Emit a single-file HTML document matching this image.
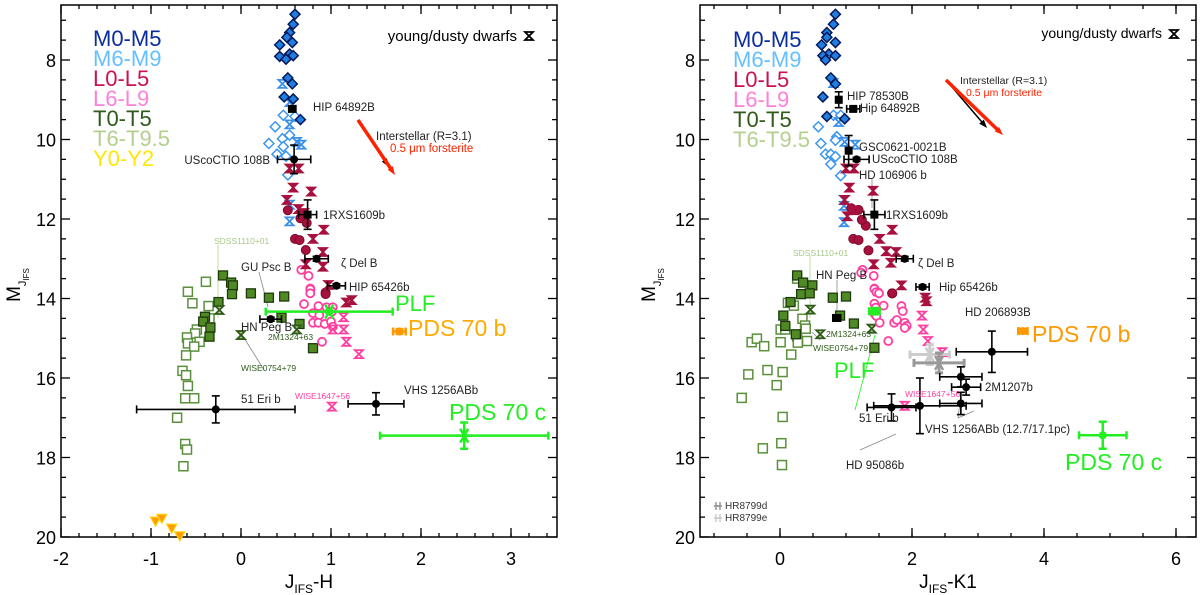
<!DOCTYPE html>
<html><head><meta charset="utf-8"><title>Colour-magnitude diagrams</title>
<style>
html,body{margin:0;padding:0;background:#fff;}
svg{display:block;font-family:"Liberation Sans",Arial,sans-serif;}
</style></head>
<body>
<svg id="chart" width="1200" height="595" viewBox="0 0 1200 595" xmlns="http://www.w3.org/2000/svg">
<g id="left"></g>
<g id="right"></g>
</svg>
<script>
// ---------- LEFT PANEL DATA (J-H vs MJ) ----------
const L_m05_x=[0.60,0.58,0.54,0.51,0.57,0.43,0.54,0.43,0.58,0.50,0.52,0.57,0.48,0.58,0.66];
const L_m05_y=[6.85,7.1,7.31,7.43,7.56,7.62,7.85,7.91,7.89,7.98,8.45,8.6,8.93,8.98,9.5];
const L_m69_x=[0.47,0.60,0.38,0.46,0.54,0.31,0.40,0.50,0.52,0.47];
const L_m69_y=[9.39,9.42,9.68,9.98,9.89,10.1,10.37,10.42,10.89,10.18];
const L_m69h_x=[0.46,0.54,0.54,0.62,0.67,0.54,0.54];
const L_m69h_y=[8.6,9.06,9.62,10.06,10.13,11.64,12.06];
const L_l05h_x=[0.54,0.64,0.58,0.78,0.51,0.64,0.70,0.92,0.80,0.91,0.72,0.91,0.97,1.17,1.23];
const L_l05h_y=[10.73,10.73,11.21,11.31,11.52,11.75,11.85,12.27,12.5,12.83,13.14,13.2,13.66,14.1,14.04];
const L_l05c_x=[0.52,0.60,0.65,0.72,0.66,0.73,0.94,0.94];
const L_l05c_y=[11.78,12.5,12.53,12.78,11.98,12.1,13.85,13.89];
const L_l69c_x=[0.67,0.75,0.77,0.77,0.77,0.77,0.70,0.86,0.80,0.87,0.95,1.02,1.01,0.80,0.86,0.93,1.0,1.02,0.90];
const L_l69c_y=[13.28,13.43,13.75,13.85,13.77,13.87,14.14,14.19,14.37,14.42,14.22,14.22,14.33,14.61,14.61,14.64,14.58,14.71,15.09];
const L_l69h_x=[1.14,1.14,1.17,1.31,1.02,1.01];
const L_l69h_y=[14.47,14.78,15.09,15.4,14.78,16.72];
const L_t05_x=[-0.20,-0.11,-0.09,-0.10,0.11,0.31,0.48,0.45,-0.40,-0.42,-0.34,-0.35,0.65,0.80,-0.25];
const L_t05_y=[13.42,13.6,13.67,13.89,13.87,13.98,13.95,14.48,14.46,14.58,14.73,14.96,14.64,15.25,14.09];
const L_t69_x=[-0.59,-0.39,-0.54,-0.36,-0.35,-0.49,-0.51,-0.60,-0.59,-0.46,-0.52,-0.61,-0.65,-0.61,-0.59,-0.62,-0.52,-0.71,-0.62,-0.60,-0.64];
const L_t69_y=[13.83,13.58,14.12,14.19,14.5,14.78,14.88,14.98,15.13,15.09,15.21,15.43,15.82,15.93,16.2,16.51,16.51,17.0,17.66,17.8,18.22];
const L_th_x=[-0.24,0.0,0.62];
const L_th_y=[14.29,14.92,14.78];
const L_y_x=[-0.95,-0.88,-0.77,-0.68];
const L_y_y=[19.6,19.53,19.78,19.97];
// companions: x, y, xerr, yerr
const L_comp_names=["HIP 64892B","USco CTIO 108B","1RXS1609b","zeta Del B","HIP 65426b","GU Psc B","51 Eri b","VHS 1256ABb"];
const L_comp_x=[0.57,0.59,0.74,0.84,1.06,0.33,-0.28,1.5];
const L_comp_y=[9.23,10.5,11.89,13.0,13.68,14.52,16.79,16.65];
const L_comp_xe=[0.04,0.185,0.1,0.13,0.1,0.12,0.88,0.31];
const L_comp_ye=[0.05,0.36,0.37,0.06,0.05,0.05,0.34,0.28];
const L_plf=[0.98,14.33,0.705,0.03];
const L_pdsb=[1.76,14.83,0.07,0.06];
const L_pdsc=[2.48,17.45,0.935,0.33];

// ---------- RIGHT PANEL DATA (J-K1 vs MJ) ----------
const R_m05_x=[0.84,0.81,0.71,0.71,0.84,0.63,0.74,0.65,0.84,0.69,0.77,0.84,0.65,0.71,0.98];
const R_m05_y=[6.85,7.1,7.31,7.43,7.56,7.62,7.85,7.89,7.89,8.0,8.45,8.6,8.93,9.42,9.48];
const R_m69_x=[0.81,0.92,0.58,0.62,0.69,0.77,0.86,0.84,0.77,0.92,0.84];
const R_m69_y=[9.39,9.39,9.68,10.1,10.37,10.37,9.93,10.02,10.62,10.91,10.43];
const R_m69h_x=[0.81,0.89,0.98,1.14,0.97,0.97,0.97];
const R_m69h_y=[8.58,9.56,10.06,10.13,11.52,11.67,12.08];
const R_l05h_x=[1.0,1.12,1.05,1.41,0.98,1.11,1.02,1.51,1.70,1.61,1.76,1.42,1.68,1.84,2.22,2.2];
const R_l05h_y=[10.73,10.73,11.21,11.29,11.52,11.78,11.93,12.5,12.27,12.81,12.83,13.14,13.1,13.67,14.07,13.98];
const R_l05c_x=[1.11,1.19,1.19,1.30,1.34,1.70,1.08,1.24,1.70];
const R_l05c_y=[12.5,12.53,11.77,12.17,12.79,13.87,11.73,12.02,13.87];
const R_l69c_x=[1.25,1.23,1.42,1.43,1.49,1.43,1.46,1.50,1.43,1.57,1.45,1.43,1.46,1.51,1.73,1.77,1.84,1.86,1.89,1.92,1.89,1.64];
const R_l69c_y=[13.28,13.35,13.43,13.75,13.85,13.76,13.84,13.87,14.13,14.18,14.23,14.38,14.44,14.61,14.61,14.54,14.19,14.32,14.61,14.69,14.74,15.07];
const R_l69h_x=[2.15,2.17,2.24,2.46,1.89];
const R_l69h_y=[14.43,14.78,15.07,15.35,16.7];
const R_t05_x=[0.26,0.35,0.49,0.32,0.45,0.80,1.0,0.05,0.08,0.24,0.91,1.12,1.43,0.16];
const R_t05_y=[13.42,13.6,13.67,13.89,13.87,13.98,13.95,14.43,14.69,14.9,14.43,14.63,15.24,14.09];
const R_t69_x=[0.26,0.12,0.21,-0.43,-0.35,-0.24,0.01,0.08,0.01,0.26,0.27,0.41,0.34,0.38,0.39,0.17,-0.48,-0.19,0.04,-0.05,-0.58,0.04,0.02,-0.26,0.03];
const R_t69_y=[13.5,14.11,14.18,15.1,15.01,15.2,14.78,14.78,15.1,14.96,15.11,15.07,14.51,14.68,14.76,15.41,15.91,15.8,15.85,16.18,16.5,16.98,17.64,17.77,18.19];
const R_th_x=[0.46,0.61,1.39];
const R_th_y=[14.28,14.9,14.76];
const R_comp_names=["HIP 78530B","Hip 64892B","GSC0621-0021B","USco CTIO 108B","1RXS1609b","zeta Del B","Hip 65426b","HN Peg B","HD 206893B","2M1207b","2M1207b-alt","VHS 1256ABb","51 Eri b","HD 95086b"];
const R_comp_x=[0.89,1.11,1.04,1.16,1.43,1.89,2.16,0.86,3.21,2.82,2.74,2.74,1.69,2.12];
const R_comp_y=[9.0,9.23,10.28,10.5,11.89,13.0,13.71,14.49,15.34,16.23,15.97,16.64,16.74,16.7];
const R_comp_xe=[0.03,0.1,0.03,0.19,0.16,0.13,0.1,0.06,0.54,0.22,0.32,0.32,0.37,0.7];
const R_comp_ye=[0.2,0.05,0.38,0.05,0.37,0.06,0.05,0.05,0.52,0.2,0.25,0.28,0.34,0.7];
const R_hr_x=[2.27,2.41];
const R_hr_y=[15.41,15.62];
const R_hr_xe=[0.3,0.38];
const R_plf=[1.43,14.32,0.08,0.08];
const R_pdsb=[3.68,14.82,0.07,0.06];
const R_pdsc=[4.89,17.44,0.36,0.34];

const NS="http://www.w3.org/2000/svg";
function mk(tag,attrs,parent){const e=document.createElementNS(NS,tag);for(const k in attrs)e.setAttribute(k,attrs[k]);parent.appendChild(e);return e;}
function txt(parent,x,y,s,size,fill,anchor,name){const t=mk('text',{x:x,y:y,'font-size':size,fill:fill,'text-anchor':anchor||'start'},parent);t.textContent=s;


return t;}

function marker(g,kind,cx,cy,name){
  let e;
  if(kind==='dfill'){e=mk('path',{d:`M${cx},${cy-5}L${cx+5},${cy}L${cx},${cy+5}L${cx-5},${cy}Z`,fill:'#1f7fe0',stroke:'#06185a','stroke-width':1.5},g);}
  else if(kind==='dopen'){e=mk('path',{d:`M${cx},${cy-5}L${cx+5},${cy}L${cx},${cy+5}L${cx-5},${cy}Z`,fill:'#fff',stroke:'#3a96ee','stroke-width':1.5},g);}
  else if(kind.startsWith('hg')){const c=kind.split(':')[1];const o=kind.split(':')[2]||'#fff';e=mk('path',{d:`M${cx-4},${cy-4}L${cx+4},${cy-4}L${cx-4},${cy+4}L${cx+4},${cy+4}Z`,fill:o,stroke:c,'stroke-width':1.8},g);}
  else if(kind==='cfill'){e=mk('circle',{cx:cx,cy:cy,r:4.5,fill:'#a8103e',stroke:'#7a0a2c','stroke-width':1},g);}
  else if(kind==='copen'){e=mk('circle',{cx:cx,cy:cy,r:4,fill:'#fff',stroke:'#ff3fa0','stroke-width':1.8},g);}
  else if(kind==='sfill'){e=mk('rect',{x:cx-4.5,y:cy-4.5,width:9,height:9,fill:'#4f8a24',stroke:'#1d3a0c','stroke-width':1.3},g);}
  else if(kind==='sopen'){e=mk('rect',{x:cx-4.5,y:cy-4.5,width:9,height:9,fill:'#fff',stroke:'#5a8f3c','stroke-width':1.5},g);}
  else if(kind==='tri'){e=mk('path',{d:`M${cx-5},${cy-4}L${cx+5},${cy-4}L${cx},${cy+5}Z`,fill:'#ff9a00',stroke:'#ffd000','stroke-width':1.2},g);}
  
  
}

function errbar(g,sx,sy,x,y,xe,ye,color,w,name,sym){
  const eg=mk('g',{},g);
  
  
  const X=sx(x),Y=sy(y),x0=sx(x-xe),x1=sx(x+xe),y0=sy(y-ye),y1=sy(y+ye);
  mk('line',{x1:x0,y1:Y,x2:x1,y2:Y,stroke:color,'stroke-width':w},eg);
  mk('line',{x1:x0,y1:Y-4,x2:x0,y2:Y+4,stroke:color,'stroke-width':w},eg);
  mk('line',{x1:x1,y1:Y-4,x2:x1,y2:Y+4,stroke:color,'stroke-width':w},eg);
  mk('line',{x1:X,y1:y0,x2:X,y2:y1,stroke:color,'stroke-width':w},eg);
  mk('line',{x1:X-4,y1:y0,x2:X+4,y2:y0,stroke:color,'stroke-width':w},eg);
  mk('line',{x1:X-4,y1:y1,x2:X+4,y2:y1,stroke:color,'stroke-width':w},eg);
  if(sym==='star'){for(const a of [0,60,120]){const r=a*Math.PI/180;mk('line',{x1:X-8*Math.cos(r),y1:Y-8*Math.sin(r),x2:X+8*Math.cos(r),y2:Y+8*Math.sin(r),stroke:color,'stroke-width':2.5},eg);}}
  else if(sym==='dot'){mk('circle',{cx:X,cy:Y,r:4,fill:color},eg);}
  else if(sym==='sq'){mk('rect',{x:X-4,y:Y-4,width:8,height:8,fill:color},eg);}
}

function axes(g,sx,sy,xl,xr,xmaj,xmin,xlabels,xtitle,ytitleX){
  const top=5,bot=537;
  const fr=mk('rect',{x:xl,y:top,width:xr-xl,height:bot-top,fill:'none',stroke:'#000','stroke-width':1.5},g);
  
  
  const tg=mk('g',{stroke:'#000','stroke-width':1.3},g);
  
  
  for(const v of xmin){const X=sx(v);if(X<xl+1||X>xr-1)continue;mk('line',{x1:X,y1:bot,x2:X,y2:bot-4},tg);mk('line',{x1:X,y1:top,x2:X,y2:top+4},tg);}
  for(const v of xmaj){const X=sx(v);if(X<xl-1||X>xr+1)continue;mk('line',{x1:X,y1:bot,x2:X,y2:bot-9},tg);mk('line',{x1:X,y1:top,x2:X,y2:top+9},tg);}
  for(let v=7;v<=20;v+=0.5){const Y=sy(v);if(Y<top+1)continue;const maj=(v%2===0);const L=maj?9:5;mk('line',{x1:xl,y1:Y,x2:xl+L,y2:Y},tg);mk('line',{x1:xr,y1:Y,x2:xr-L,y2:Y},tg);}
  for(const v of xlabels){txt(g,sx(v),565,String(v),18,'#000','middle','x-tick-label');}
  for(const v of [8,10,12,14,16,18,20]){txt(g,xl-5,sy(v)+7,String(v),18,'#000','end','y-tick-label');}
  const xt=mk('text',{x:(xl+xr)/2,y:588,'font-size':19,'text-anchor':'middle'},g);
  xt.innerHTML='J<tspan font-size="12" dy="5">IFS</tspan><tspan dy="-5">'+xtitle+'</tspan>';
  
  
  const yt=mk('text',{x:0,y:0,'font-size':19,'text-anchor':'middle',transform:`translate(${ytitleX},285) rotate(-90)`},g);
  yt.innerHTML='M<tspan font-size="11" dy="6">J</tspan><tspan font-size="8" dy="3">IFS</tspan>';
  
  
}

function legend(g,x,y0,items){
  const lg=mk('g',{},g);
  
  
  items.forEach((it,i)=>{txt(lg,x,y0+i*20,it[0],22,it[1],'start','legend-entry');});
}

function scatter(g,sx,sy,xs,ys,kind,name){
  const sg=mk('g',{},g);
  
  
  for(let i=0;i<xs.length;i++)marker(sg,kind,sx(xs[i]),sy(ys[i]),name+'-point');
}

function arrow(g,x1,y1,x2,y2,color,w,name){
  const ag=mk('g',{},g);
  
  
  const ang=Math.atan2(y2-y1,x2-x1),h=9;
  mk('line',{x1:x1,y1:y1,x2:x2-h*0.6*Math.cos(ang),y2:y2-h*0.6*Math.sin(ang),stroke:color,'stroke-width':w},ag);
  mk('path',{d:`M${x2},${y2}L${x2-h*Math.cos(ang-0.35)},${y2-h*Math.sin(ang-0.35)}L${x2-h*Math.cos(ang+0.35)},${y2-h*Math.sin(ang+0.35)}Z`,fill:color},ag);
}
function leader(g,x1,y1,x2,y2,color){const l=mk('line',{x1:x1,y1:y1,x2:x2,y2:y2,stroke:color||'#777','stroke-width':0.8},g);

}

const sy=y=>60+(y-8)*39.75;

// ================= LEFT =================
(function(){
  const g=document.getElementById('left');
  const sx=x=>241+90*x;
  const maj=[-2,-1,0,1,2,3],mn=[];for(let v=-2;v<=3.6;v+=0.2)mn.push(Math.round(v*10)/10);
  axes(g,sx,sy,61,557,maj,mn,[-2,-1,0,1,2,3],'-H',20);
  leader(g,218,245,218,318,'#b5cf8f');
  leader(g,259,272,268,307,'#888');
  leader(g,264,370,241,333,'#888');
  scatter(g,sx,sy,L_t69_x,L_t69_y,'sopen','t6-t9-dwarfs');
  scatter(g,sx,sy,L_t05_x,L_t05_y,'sfill','t0-t5-dwarfs');
  scatter(g,sx,sy,L_th_x,L_th_y,'hg:#2e5a1a:#b5cf8f','young-t-dwarfs');
  scatter(g,sx,sy,L_y_x,L_y_y,'tri','y-dwarfs');
  scatter(g,sx,sy,L_m69_x,L_m69_y,'dopen','m6-m9-dwarfs');
  scatter(g,sx,sy,L_m69h_x,L_m69h_y,'hg:#3a8fe8','young-m6-m9-dwarfs');
  scatter(g,sx,sy,L_m05_x,L_m05_y,'dfill','m0-m5-dwarfs');
  scatter(g,sx,sy,L_l69c_x,L_l69c_y,'copen','l6-l9-dwarfs');
  scatter(g,sx,sy,L_l69h_x,L_l69h_y,'hg:#ff3fa0','young-l6-l9-dwarfs');
  scatter(g,sx,sy,L_l05c_x,L_l05c_y,'cfill','l0-l5-dwarfs');
  scatter(g,sx,sy,L_l05h_x,L_l05h_y,'hg:#a8103e:#a8103e','young-l0-l5-dwarfs');
  for(let i=0;i<L_comp_x.length;i++){
    const sym=(i===2)?'sq':(i===0?'sq':'dot');
    errbar(g,sx,sy,L_comp_x[i],L_comp_y[i],L_comp_xe[i],L_comp_ye[i],'#000',1.6,'companion-'+L_comp_names[i].replace(/\s+/g,'-').toLowerCase(),sym);
  }
  errbar(g,sx,sy,L_plf[0],L_plf[1],L_plf[2],L_plf[3],'#22ee22',2.5,'plf-point','star');
  errbar(g,sx,sy,L_pdsb[0],L_pdsb[1],L_pdsb[2],L_pdsb[3],'#ff9900',2.5,'pds70b-point','dot');
  errbar(g,sx,sy,L_pdsc[0],L_pdsc[1],L_pdsc[2],L_pdsc[3],'#22ee22',2.5,'pds70c-point','star');
  arrow(g,358,120,389,167,'#000',1.5,'interstellar-reddening-arrow');
  arrow(g,358,120,395,175,'#ff2200',3.5,'forsterite-reddening-arrow');
  legend(g,93,46,[['M0-M5','#0a2c9e'],['M6-M9','#66c0ff'],['L0-L5','#cc1050'],['L6-L9','#ff80d8'],['T0-T5','#2e5a1a'],['T6-T9.5','#b5cf8f'],['Y0-Y2','#ffe800']]);
  txt(g,517,41,'young/dusty dwarfs',15,'#000','end','young-dusty-legend-label');
  marker(g,'hg:#000',529,36,'young-dusty-legend-symbol');
  const f=11.5;
  txt(g,313,111,'HIP 64892B',f,'#222','start','label-hip64892b');
  txt(g,376,140,'Interstellar (R=3.1)',f,'#222','start','label-interstellar');
  txt(g,390,152,'0.5 μm forsterite',f,'#ff2200','start','label-forsterite');
  txt(g,270,164,'UScoCTIO 108B',f,'#222','end','label-uscoctio108b');
  txt(g,323,219,'1RXS1609b',f,'#222','start','label-1rxs1609b');
  txt(g,214,244,'SDSS1110+01',8.5,'#a8c888','start','label-sdss1110');
  txt(g,241,271,'GU Psc B',f,'#222','start','label-gu-psc-b');
  txt(g,341,267,'ζ Del B',f,'#222','start','label-zeta-del-b');
  txt(g,349,291,'HIP 65426b',f,'#222','start','label-hip65426b');
  txt(g,395,311,'PLF',22,'#22ee22','start','label-plf');
  txt(g,408,336,'PDS 70 b',23,'#ffaa00','start','label-pds70b');
  txt(g,241,331,'HN Peg B',f,'#222','start','label-hn-peg-b');
  txt(g,268,340,'2M1324+63',8.5,'#2e5a1a','start','label-2m1324');
  txt(g,241,371,'WISE0754+79',8.5,'#2e5a1a','start','label-wise0754');
  txt(g,241,403,'51 Eri b',f,'#222','start','label-51-eri-b');
  txt(g,295,399,'WISE1647+56',8.5,'#ff3fa0','start','label-wise1647');
  txt(g,404,394,'VHS 1256ABb',f,'#222','start','label-vhs1256abb');
  txt(g,449,420,'PDS 70 c',23,'#22ee22','start','label-pds70c');
})();

// ================= RIGHT =================
(function(){
  const g=document.getElementById('right');
  const sx=x=>780+66*x;
  const maj=[0,2,4,6],mn=[];for(let v=-1;v<=6.5;v+=0.5)mn.push(v);
  axes(g,sx,sy,700,1196,maj,mn,[0,2,4,6],'-K1',655);
  leader(g,810,256,810,318,'#b5cf8f');
  leader(g,837,280,837,316,'#888');
  leader(g,872,178,872,208,'#888');
  leader(g,820,340,812,332,'#888');
  leader(g,855,410,875,335,'#22ee22');
  leader(g,860,450,896,434,'#888');
  leader(g,958,418,960,402,'#888');
  leader(g,958,418,974,411,'#888');
  scatter(g,sx,sy,R_t69_x,R_t69_y,'sopen','t6-t9-dwarfs');
  scatter(g,sx,sy,R_t05_x,R_t05_y,'sfill','t0-t5-dwarfs');
  scatter(g,sx,sy,R_th_x,R_th_y,'hg:#2e5a1a:#b5cf8f','young-t-dwarfs');
  scatter(g,sx,sy,R_m69_x,R_m69_y,'dopen','m6-m9-dwarfs');
  scatter(g,sx,sy,R_m69h_x,R_m69h_y,'hg:#3a8fe8','young-m6-m9-dwarfs');
  scatter(g,sx,sy,R_m05_x,R_m05_y,'dfill','m0-m5-dwarfs');
  scatter(g,sx,sy,R_l69c_x,R_l69c_y,'copen','l6-l9-dwarfs');
  scatter(g,sx,sy,R_l69h_x,R_l69h_y,'hg:#ff3fa0','young-l6-l9-dwarfs');
  scatter(g,sx,sy,R_l05c_x,R_l05c_y,'cfill','l0-l5-dwarfs');
  scatter(g,sx,sy,R_l05h_x,R_l05h_y,'hg:#a8103e:#a8103e','young-l0-l5-dwarfs');
  const hrc=['#cccccc','#999999'];
  for(let i=0;i<R_hr_x.length;i++)errbar(g,sx,sy,R_hr_x[i],R_hr_y[i],R_hr_xe[i],0.25,hrc[i],3,'hr8799-point','star');
  for(let i=0;i<R_comp_x.length;i++){
    const sym=(i<3||i===4||i===7)?'sq':'dot';
    errbar(g,sx,sy,R_comp_x[i],R_comp_y[i],R_comp_xe[i],R_comp_ye[i],'#000',1.6,'companion-'+R_comp_names[i].replace(/\s+/g,'-').toLowerCase(),sym);
  }
  errbar(g,sx,sy,R_plf[0],R_plf[1],R_plf[2],R_plf[3],'#22ee22',2.5,'plf-point','dot');
  errbar(g,sx,sy,R_pdsb[0],R_pdsb[1],R_pdsb[2],R_pdsb[3],'#ff9900',2.5,'pds70b-point','dot');
  errbar(g,sx,sy,R_pdsc[0],R_pdsc[1],R_pdsc[2],R_pdsc[3],'#22ee22',2.5,'pds70c-point','dot');
  arrow(g,946,80,987,128,'#000',1.5,'interstellar-reddening-arrow');
  arrow(g,946,80,1003,135,'#ff2200',3.5,'forsterite-reddening-arrow');
  legend(g,733,47,[['M0-M5','#0a2c9e'],['M6-M9','#66c0ff'],['L0-L5','#cc1050'],['L6-L9','#ff80d8'],['T0-T5','#2e5a1a'],['T6-T9.5','#b5cf8f']]);
  txt(g,1162,38,'young/dusty dwarfs',14,'#000','end','young-dusty-legend-label');
  marker(g,'hg:#000',1174,34,'young-dusty-legend-symbol');
  const f=11.5;
  txt(g,960,84,'Interstellar (R=3.1)',10.5,'#222','start','label-interstellar');
  txt(g,966,96,'0.5 μm forsterite',10.5,'#ff2200','start','label-forsterite');
  txt(g,847,100,'HIP 78530B',f,'#222','start','label-hip78530b');
  txt(g,860,112,'Hip 64892B',f,'#222','start','label-hip64892b');
  txt(g,859,151,'GSC0621-0021B',f,'#222','start','label-gsc0621');
  txt(g,872,163,'UScoCTIO 108B',f,'#222','start','label-uscoctio108b');
  txt(g,859,179,'HD 106906 b',f,'#222','start','label-hd106906b');
  txt(g,886,219,'1RXS1609b',f,'#222','start','label-1rxs1609b');
  txt(g,793,256,'SDSS1110+01',8.5,'#a8c888','start','label-sdss1110');
  txt(g,816,279,'HN Peg B',f,'#222','start','label-hn-peg-b');
  txt(g,918,267,'ζ Del B',f,'#222','start','label-zeta-del-b');
  txt(g,939,291,'Hip 65426b',f,'#222','start','label-hip65426b');
  txt(g,826,337,'2M1324+63',8.5,'#2e5a1a','start','label-2m1324');
  txt(g,813,351,'WISE0754+79',8.5,'#2e5a1a','start','label-wise0754');
  txt(g,834,378,'PLF',22,'#22ee22','start','label-plf');
  txt(g,965,316,'HD 206893B',f,'#222','start','label-hd206893b');
  txt(g,1032,342,'PDS 70 b',23,'#ff9900','start','label-pds70b');
  txt(g,985,391,'2M1207b',f,'#222','start','label-2m1207b');
  txt(g,905,397,'WISE1647+56',8.5,'#ff3fa0','start','label-wise1647');
  txt(g,859,422,'51 Eri b',f,'#222','start','label-51-eri-b');
  txt(g,925,433,'VHS 1256ABb (12.7/17.1pc)',f,'#222','start','label-vhs1256abb');
  txt(g,846,469,'HD 95086b',f,'#222','start','label-hd95086b');
  txt(g,1065,470,'PDS 70 c',23,'#22ee22','start','label-pds70c');
  errbar(g,x=>x,y=>y,718,506,2,0,'#999',1.5,'hr8799d-legend-symbol','');
  errbar(g,x=>x,y=>y,718,518,2,0,'#ccc',1.5,'hr8799e-legend-symbol','');
  txt(g,725,509,'HR8799d',10,'#333','start','label-hr8799d');
  txt(g,725,521,'HR8799e',10,'#333','start','label-hr8799e');
})();
</script>
</body></html>
